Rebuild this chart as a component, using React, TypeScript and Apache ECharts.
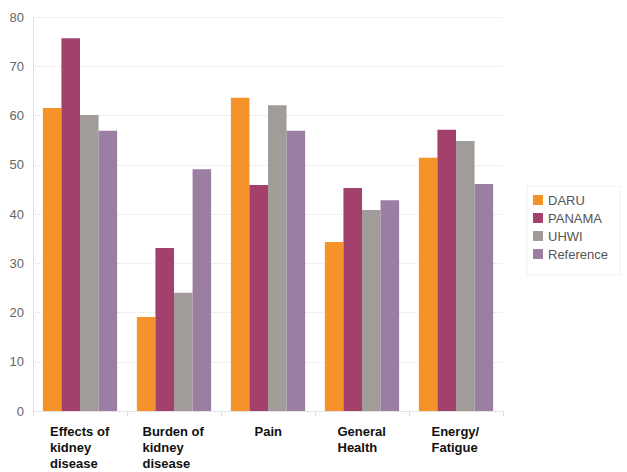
import React, { useEffect, useRef } from "react";
import * as echarts from "echarts";

const categories = [
  "Effects of\nkidney\ndisease",
  "Burden of\nkidney\ndisease",
  "Pain",
  "General\nHealth",
  "Energy/\nFatigue",
];
const seriesNames = ["DARU", "PANAMA", "UHWI", "Reference"];
const daru = [61.5, 19.1, 63.6, 34.3, 51.4];
const panama = [75.7, 33.1, 45.9, 45.3, 57.1];
const uhwi = [60.1, 24.0, 62.1, 40.8, 54.8];
const reference = [56.9, 49.1, 56.9, 42.8, 46.1];
const yTicks = { min: 0, max: 80, interval: 10 };
const colors = ["#F5922A", "#A3406B", "#A19B99", "#9A7FA3"];
const labelWidths = [60, 63, 27, 49, 49];

export default function App() {
  const ref = useRef<HTMLDivElement>(null);
  useEffect(() => {
    if (!ref.current) return;
    const chart = echarts.init(ref.current, undefined, { renderer: "svg" });
    const rich: Record<string, any> = {};
    labelWidths.forEach((w, i) => {
      rich["c" + i] = {
        width: w,
        align: "left",
        fontFamily: "Liberation Sans, Arial, sans-serif",
        fontWeight: "bold",
        fontSize: 13,
        lineHeight: 16,
        color: "#111",
      };
    });
    const data = [daru, panama, uhwi, reference];
    chart.setOption({
      animation: false,
      color: colors,
      grid: { left: 33, right: 124, top: 17, bottom: 61, containLabel: false },
      legend: {
        orient: "vertical",
        left: 527,
        top: 186,
        itemWidth: 10,
        itemHeight: 10,
        itemGap: 2,
        icon: "rect",
        padding: [6, 12, 13, 6],
        borderColor: "#e2e2e2",
        borderWidth: 1,
        borderType: "dotted",
        textStyle: {
          fontFamily: "Liberation Sans, Arial, sans-serif",
          fontSize: 13,
          color: "#555",
          lineHeight: 16,
        },
        data: seriesNames,
      },
      xAxis: {
        type: "category",
        data: categories,
        axisLine: { lineStyle: { color: "#ddd", type: "dotted" } },
        axisTick: { show: true, length: 5, lineStyle: { color: "#ddd" } },
        axisLabel: {
          interval: 0,
          margin: 12,
          align: "center",
          formatter: (v: string, idx: number) =>
            v
              .split("\n")
              .map((l) => `{c${idx}|${l}}`)
              .join("\n"),
          rich,
        },
      },
      yAxis: {
        type: "value",
        min: yTicks.min,
        max: yTicks.max,
        interval: yTicks.interval,
        axisLine: { show: true, lineStyle: { color: "#ddd", type: "dotted" } },
        axisTick: { show: false },
        splitLine: { lineStyle: { color: "#e6dede", type: "dotted" } },
        axisLabel: {
          margin: 9,
          fontFamily: "Liberation Sans, Arial, sans-serif",
          fontSize: 13,
          color: "#666",
        },
      },
      series: seriesNames.map((name, i) => ({
        name,
        type: "bar",
        data: data[i],
        barGap: "0%",
        barCategoryGap: "21%",
        itemStyle: { color: colors[i] },
      })),
    });
    return () => chart.dispose();
  }, []);
  return (
    <div
      ref={ref}
      style={{ position: "absolute", left: 0, top: 0, width: 627, height: 472 }}
    />
  );
}
